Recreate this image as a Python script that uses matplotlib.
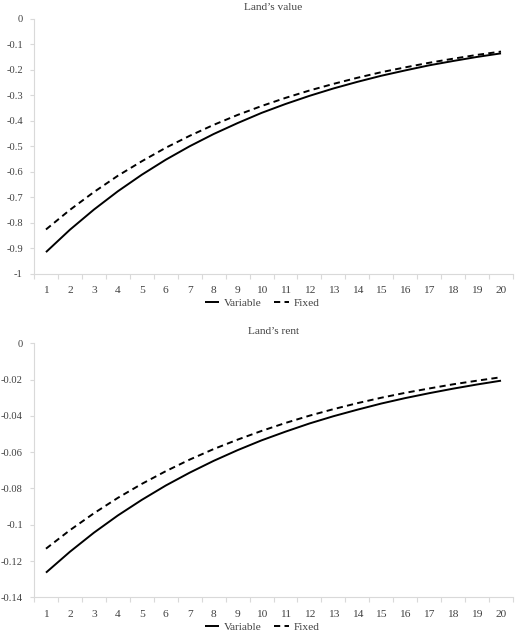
import matplotlib
matplotlib.use("Agg")
import matplotlib.pyplot as plt
from matplotlib.ticker import FixedLocator, FixedFormatter

plt.rcParams['font.family'] = ['Liberation Serif', 'DejaVu Serif']

periods = list(range(1, 21))
period_labels = [str(p) for p in periods]

value_variable = [-0.916, -0.828, -0.749, -0.677, -0.612, -0.553, -0.500, -0.452, -0.409, -0.369,
                  -0.334, -0.302, -0.273, -0.247, -0.223, -0.202, -0.182, -0.165, -0.149, -0.135]
value_fixed = [-0.827, -0.750, -0.680, -0.616, -0.559, -0.506, -0.459, -0.416, -0.377, -0.342,
               -0.310, -0.281, -0.255, -0.231, -0.209, -0.190, -0.172, -0.156, -0.141, -0.128]

rent_variable = [-0.1264, -0.1149, -0.1044, -0.0949, -0.0863, -0.0784, -0.0713, -0.0648, -0.0589, -0.0535,
                 -0.0487, -0.0442, -0.0402, -0.0366, -0.0332, -0.0302, -0.0275, -0.0250, -0.0227, -0.0206]
rent_fixed = [-0.1132, -0.1030, -0.0937, -0.0852, -0.0775, -0.0705, -0.0641, -0.0583, -0.0531, -0.0483,
              -0.0439, -0.0399, -0.0363, -0.0330, -0.0300, -0.0273, -0.0249, -0.0226, -0.0206, -0.0187]

value_yticks = [0, -0.1, -0.2, -0.3, -0.4, -0.5, -0.6, -0.7, -0.8, -0.9, -1]
value_yticklabels = ['0', '-0.1', '-0.2', '-0.3', '-0.4', '-0.5', '-0.6', '-0.7', '-0.8', '-0.9', '-1']
rent_yticks = [0, -0.02, -0.04, -0.06, -0.08, -0.1, -0.12, -0.14]
rent_yticklabels = ['0', '-0.02', '-0.04', '-0.06', '-0.08', '-0.1', '-0.12', '-0.14']

series_names = ['Variable', 'Fixed']
titles = ["Land\u2019s value", "Land\u2019s rent"]

W, H = 519, 640
fig = plt.figure(figsize=(W / 100, H / 100), dpi=100)

text_color = '#404040'
spine_color = '#d9d9d9'
fs = 8.2
yfs = 7.6


def px_rect(left, top, right, bottom):
    return [left / W, 1 - bottom / H, (right - left) / W, (bottom - top) / H]


panels = [
    dict(rect=px_rect(34, 19, 513, 273.5), title_y=8, legend_y=303,
         var=value_variable, fix=value_fixed, yt=value_yticks, ytl=value_yticklabels, ylim=(-1, 0)),
    dict(rect=px_rect(34, 343.3, 513, 597.3), title_y=332, legend_y=627,
         var=rent_variable, fix=rent_fixed, yt=rent_yticks, ytl=rent_yticklabels, ylim=(-0.14, 0)),
]

for i, p in enumerate(panels):
    ax = fig.add_axes(p['rect'])
    x = list(range(len(periods)))
    l1, = ax.plot(x, p['var'], color='black', lw=1.4, solid_capstyle='butt', label=series_names[0])
    l2, = ax.plot(x, p['fix'], color='black', lw=1.4, linestyle=(0, (3.2, 2.2)), label=series_names[1])
    ax.set_xlim(-0.5, len(periods) - 0.5)
    ax.set_ylim(*p['ylim'])
    for s in ['top', 'right']:
        ax.spines[s].set_visible(False)
    for s in ['left', 'bottom']:
        ax.spines[s].set_color(spine_color)
        ax.spines[s].set_linewidth(0.8)
    ax.xaxis.set_major_locator(FixedLocator(x))
    ax.xaxis.set_major_formatter(FixedFormatter(period_labels))
    ax.xaxis.set_minor_locator(FixedLocator([v - 0.5 for v in range(len(periods) + 1)]))
    ax.tick_params(axis='x', which='major', length=0, pad=9, labelsize=fs, labelcolor=text_color)
    ax.tick_params(axis='x', which='minor', length=3.5, width=0.8, color=spine_color)
    ax.set_yticks(p['yt'])
    ax.set_yticklabels(p['ytl'])
    ax.tick_params(axis='y', length=3, width=0.8, color=spine_color, pad=5, labelsize=yfs, labelcolor=text_color)
    fig.text((34 + 513) / 2 / W, 1 - p['title_y'] / H, titles[i], ha='center', va='center',
             fontsize=fs, color=text_color)
    fig.legend(handles=[l1, l2], loc='center', bbox_to_anchor=(262 / W, 1 - p['legend_y'] / H),
               ncol=2, frameon=False, fontsize=fs, handlelength=1.3, handletextpad=0.4,
               columnspacing=1.1, labelcolor=text_color)

fig.savefig('out.png', dpi=100)
